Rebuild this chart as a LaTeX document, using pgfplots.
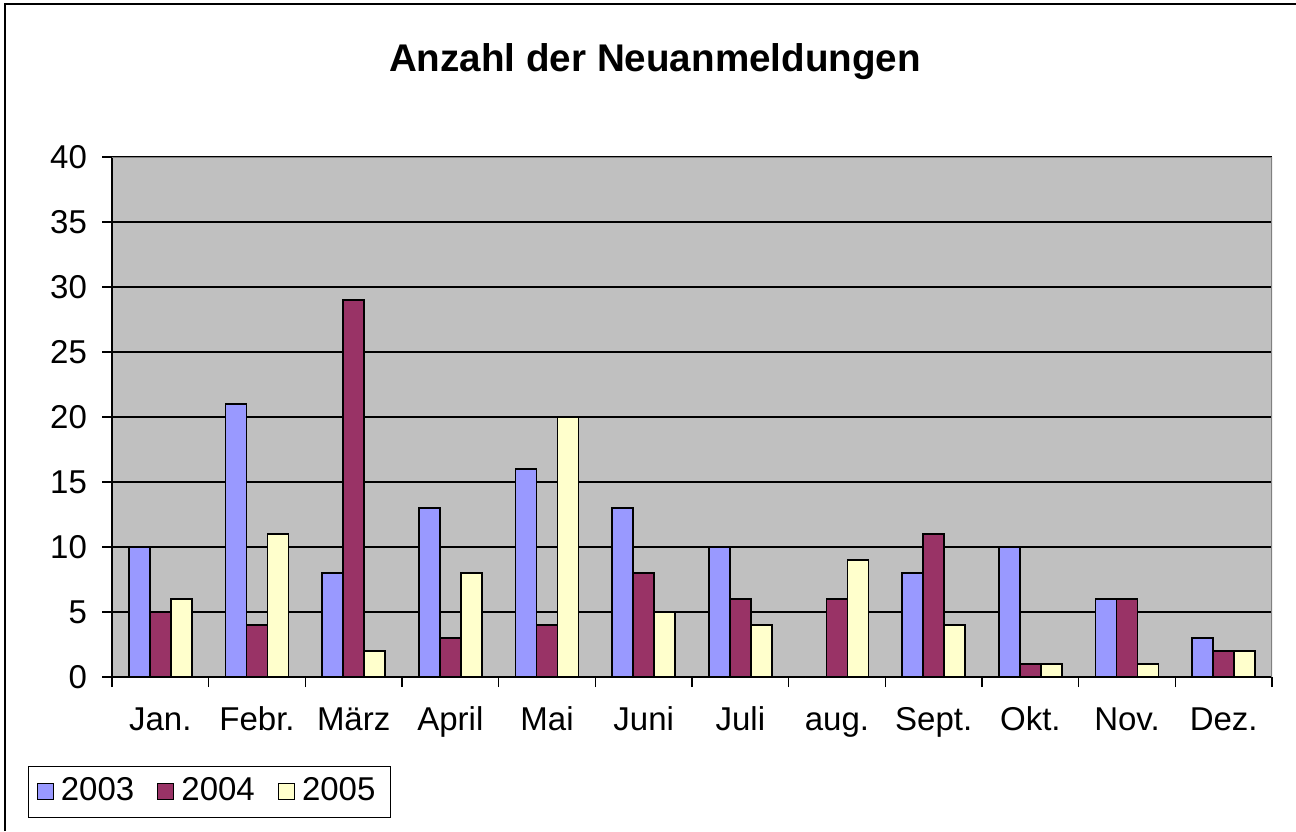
\documentclass[border=0pt]{standalone}
\usepackage{fontspec}
\setmainfont{Liberation Sans}
\usepackage{pgfplots}
\pgfplotsset{compat=1.18}
\definecolor{cA}{HTML}{9999FF}
\definecolor{cB}{HTML}{993366}
\definecolor{cC}{HTML}{FFFFCC}
\definecolor{cBG}{HTML}{C0C0C0}
\begin{document}
\begin{tikzpicture}
\path[use as bounding box] (0pt,0pt) rectangle (648pt,415.5pt);
\draw[line width=1pt] (2.5pt,0pt) -- (2.5pt,413.5pt) -- (648pt,413.5pt);
\node[font=\bfseries\fontsize{19.3}{22}\selectfont] at (327.5pt,384.5pt) {Anzahl der Neuanmeldungen};
\begin{axis}[
  at={(56pt,77pt)}, anchor=south west,
  scale only axis, width=580pt, height=260pt,
  xmin=-0.5, xmax=11.5, ymin=0, ymax=40,
  ytick={0,5,...,40},
  xtick={0,...,11},
  xticklabels={Jan.,Febr.,März,April,Mai,Juni,Juli,aug.,Sept.,Okt.,Nov.,Dez.},
  minor xtick={-0.5,0.5,...,11.5},
  major x tick style={draw=none},
  tick align=outside,
  major tick length=5pt, minor tick length=5pt,
  every tick/.style={black, line width=0.6pt},
  axis x line*=bottom, axis y line*=left,
  axis line style={black, line width=0.8pt},
  ymajorgrids, grid style={black, line width=0.6pt},
  axis background/.style={fill=cBG},
  tick label style={font=\fontsize{16.5}{19}\selectfont},
  /pgf/number format/assume math mode=true,
  xticklabel style={yshift=-6pt, text height=12pt, text depth=3.5pt},
  yticklabel style={xshift=-4pt},
  ybar=0pt, bar width=10.5pt,
  legend style={at={(axis description cs:-0.0724,-0.271)}, anchor=south west,
    legend columns=3, draw=black, line width=0.6pt, font=\fontsize{16.5}{19}\selectfont,
    inner xsep=4pt, inner ysep=3pt,
    nodes={text height=12pt, text depth=3.5pt, inner xsep=3.5pt},
    /tikz/every even column/.append style={column sep=8pt}},
  legend image code/.code={\draw[#1,draw=black,line width=0.6pt] (0pt,-4pt) rectangle (8pt,4pt);},
]
\addplot[fill=cA, draw=black, line width=0.8pt] coordinates {(0,10)(1,21)(2,8)(3,13)(4,16)(5,13)(6,10)(7,0)(8,8)(9,10)(10,6)(11,3)};
\addplot[fill=cB, draw=black, line width=0.8pt] coordinates {(0,5)(1,4)(2,29)(3,3)(4,4)(5,8)(6,6)(7,6)(8,11)(9,1)(10,6)(11,2)};
\addplot[fill=cC, draw=black, line width=0.8pt] coordinates {(0,6)(1,11)(2,2)(3,8)(4,20)(5,5)(6,4)(7,9)(8,4)(9,1)(10,1)(11,2)};
\legend{2003,2004,2005}
\draw[gray, line width=0.8pt] (rel axis cs:0,1) -- (rel axis cs:1,1) -- (rel axis cs:1,0);
\end{axis}
\end{tikzpicture}
\end{document}
